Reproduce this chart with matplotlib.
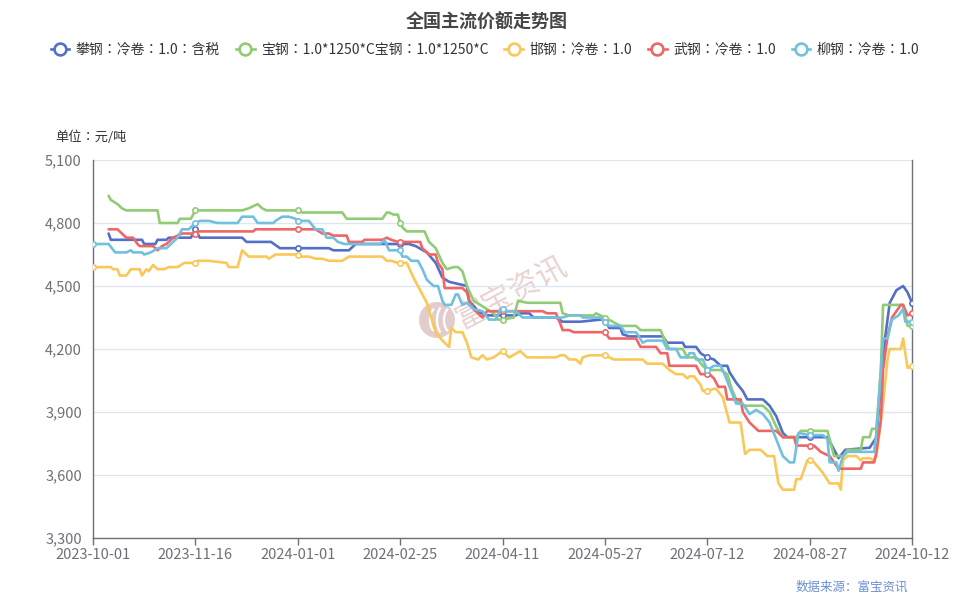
import matplotlib
matplotlib.use("Agg")
import matplotlib.pyplot as plt
from matplotlib.lines import Line2D
from matplotlib.patches import Circle, Arc
import pandas as pd

plt.rcParams['font.family'] = ['Noto Sans CJK SC', 'DejaVu Sans']

# ---------------- data ----------------
# category axis: daily dates, Spring Festival closure (2024-02-09..02-17) has no data
all_days = pd.date_range("2023-10-01", "2024-10-12", freq="D")
closed = pd.date_range("2024-02-09", "2024-02-17", freq="D")
dates = [d.strftime("%Y-%m-%d") for d in all_days if d not in closed]
label_step = 46

series_names = ["攀钢：冷卷：1.0：含税",
                "宝钢：1.0*1250*C宝钢：1.0*1250*C",
                "邯钢：冷卷：1.0",
                "武钢：冷卷：1.0",
                "柳钢：冷卷：1.0"]
series_colors = ["#5470c6", "#91cc75", "#fac858", "#ee6666", "#73c0de"]

# (date index, price) change points
pangang = [(7,4750),(8,4720),(22,4720),(23,4700),(28,4700),(29,4720),(33,4720),(34,4730),(44,4730),
           (46,4770),(48,4730),(67,4730),(69,4710),(80,4710),(84,4680),(92,4680),(106,4680),(108,4670),
           (115,4670),(118,4700),(138,4700),(142,4700),(145,4690),(150,4660),(154,4610),(157,4540),
           (160,4520),(168,4500),(169,4430),(173,4380),(177,4360),(184,4360),(190,4360),(192,4370),
           (196,4370),(198,4350),(208,4350),(211,4330),(219,4330),(228,4340),(230,4340),(232,4300),
           (237,4300),(238,4270),(241,4260),(256,4260),(258,4230),(265,4230),(266,4210),(271,4210),
           (273,4180),(276,4160),(279,4150),(282,4120),(285,4120),(286,4090),(289,4040),(292,4000),
           (294,3960),(301,3960),(304,3930),(307,3880),(310,3800),(312,3780),(322,3780),(330,3780),
           (333,3720),(335,3680),(338,3720),(349,3730),(352,3780),(354,4020),(356,4260),(358,4420),
           (361,4480),(364,4500),(366,4470),(368,4420)]
baogang = [(7,4930),(8,4910),(11,4890),(13,4870),(15,4860),(29,4860),(30,4800),(38,4800),(39,4820),
           (44,4820),(46,4860),(67,4860),(70,4870),(74,4890),(76,4870),(78,4860),(92,4860),(94,4850),
           (112,4850),(114,4820),(130,4820),(132,4850),(133,4850),(135,4840),(137,4840),(138,4800),
           (139,4780),(141,4760),(149,4760),(151,4710),(154,4680),(157,4610),(159,4580),(162,4590),
           (164,4590),(166,4570),(168,4500),(171,4430),(174,4410),(177,4390),(180,4370),(182,4340),
           (184,4340),(189,4350),(191,4430),(195,4420),(210,4420),(211,4370),(214,4360),(225,4360),
           (226,4370),(230,4350),(237,4310),(244,4310),(246,4290),(255,4290),(257,4240),(259,4200),
           (265,4200),(267,4160),(271,4160),(274,4120),(276,4100),(282,4100),(285,4080),(287,4010),
           (289,3960),(292,3930),(301,3930),(304,3900),(307,3830),(310,3780),(316,3780),(318,3810),
           (322,3810),(330,3810),(333,3690),(337,3690),(339,3720),(345,3720),(346,3780),(349,3780),
           (350,3820),(352,3820),(354,4100),(355,4410),(364,4410),(366,4310),(368,4310)]
hangang = [(0,4590),(8,4590),(9,4580),(11,4580),(12,4550),(15,4550),(17,4580),(21,4580),(22,4550),
           (24,4580),(25,4570),(27,4600),(29,4580),(32,4580),(34,4590),(38,4590),(41,4610),(45,4610),
           (46,4610),(47,4620),(49,4620),(52,4620),(60,4610),(61,4590),(65,4590),(67,4670),(70,4640),
           (78,4640),(79,4630),(82,4650),(92,4650),(93,4640),(97,4640),(100,4630),(103,4630),(106,4620),
           (112,4620),(115,4640),(130,4640),(132,4620),(134,4620),(137,4610),(138,4610),(141,4610),
           (144,4540),(147,4480),(150,4420),(152,4350),(154,4280),(157,4240),(160,4210),(161,4300),
           (163,4280),(166,4280),(168,4230),(170,4160),(173,4150),(175,4170),(177,4150),(180,4160),
           (184,4190),(187,4160),(192,4190),(195,4160),(208,4160),(210,4170),(212,4170),(214,4150),
           (217,4150),(219,4130),(220,4160),(223,4170),(228,4170),(230,4170),(234,4150),(247,4150),
           (249,4130),(256,4130),(259,4100),(262,4080),(265,4080),(267,4060),(268,4070),(270,4070),
           (273,4030),(274,4000),(276,4000),(279,4010),(280,4010),(283,3970),(286,3850),(291,3850),
           (293,3700),(295,3720),(300,3720),(303,3690),(306,3690),(308,3560),(310,3530),(315,3530),
           (316,3580),(318,3580),(321,3670),(322,3670),(324,3660),(328,3610),(331,3560),(335,3560),
           (336,3530),(337,3670),(339,3690),(343,3690),(345,3670),(346,3680),(349,3680),(351,3670),
           (352,3690),(355,3940),(357,4150),(358,4200),(363,4200),(364,4250),(365,4180),(366,4110),
           (368,4120)]
wugang = [(7,4770),(11,4770),(13,4750),(15,4730),(18,4730),(20,4700),(21,4690),(27,4690),(29,4670),
          (31,4690),(33,4700),(36,4730),(40,4750),(45,4750),(46,4750),(47,4760),(72,4760),(73,4770),
          (92,4770),(100,4770),(103,4750),(106,4750),(108,4740),(114,4740),(115,4710),(121,4710),
          (122,4720),(130,4720),(132,4730),(134,4720),(137,4710),(138,4710),(147,4710),(148,4680),
          (151,4650),(154,4650),(155,4610),(157,4580),(158,4490),(166,4490),(168,4470),(169,4430),
          (171,4390),(173,4370),(175,4350),(177,4380),(184,4380),(202,4380),(204,4370),(208,4370),
          (210,4320),(211,4290),(214,4290),(216,4280),(230,4280),(232,4250),(244,4250),(246,4210),
          (253,4210),(255,4180),(258,4180),(259,4120),(271,4120),(273,4080),(276,4080),(277,4080),
          (279,4060),(281,4020),(284,4020),(285,3960),(291,3960),(292,3900),(295,3850),(299,3810),
          (307,3810),(310,3780),(315,3780),(316,3740),(322,3740),(324,3740),(327,3710),(331,3690),
          (335,3630),(345,3630),(346,3660),(351,3660),(352,3710),(354,3860),(355,4100),(357,4260),
          (359,4350),(363,4410),(364,4410),(366,4360),(368,4370)]
liugang = [(0,4700),(7,4700),(10,4660),(15,4660),(17,4670),(18,4660),(22,4660),(23,4650),(26,4660),
           (29,4680),(33,4680),(35,4700),(38,4730),(40,4770),(43,4770),(45,4790),(46,4800),(48,4810),
           (52,4810),(56,4800),(65,4800),(67,4830),(72,4830),(74,4800),(81,4800),(82,4810),(85,4830),
           (88,4830),(91,4820),(92,4810),(97,4810),(100,4770),(103,4770),(105,4730),(108,4730),
           (110,4710),(113,4700),(129,4700),(131,4720),(133,4670),(138,4670),(139,4640),(141,4640),
           (143,4620),(146,4620),(148,4580),(150,4530),(153,4500),(155,4500),(157,4430),(158,4410),
           (161,4410),(163,4460),(164,4460),(166,4410),(168,4420),(171,4390),(175,4380),(178,4340),
           (181,4340),(183,4390),(184,4390),(185,4380),(190,4380),(193,4350),(211,4350),(214,4360),
           (219,4360),(220,4350),(228,4350),(230,4330),(232,4310),(237,4310),(239,4280),(244,4280),
           (247,4230),(249,4240),(256,4240),(258,4200),(262,4200),(264,4160),(267,4160),(268,4180),
           (270,4180),(271,4150),(274,4150),(276,4100),(279,4120),(282,4120),(283,4100),(286,4020),
           (289,3940),(292,3940),(295,3890),(298,3910),(301,3890),(304,3850),(307,3770),(310,3690),
           (313,3660),(315,3660),(317,3800),(322,3790),(328,3790),(330,3770),(331,3660),(334,3660),
           (335,3620),(337,3690),(339,3710),(351,3710),(352,3800),(353,3940),(355,4250),(357,4250),
           (359,4340),(362,4360),(364,4390),(365,4330),(368,4330)]
all_series = [pangang, baogang, hangang, wugang, liugang]

y_ticks = [3300, 3600, 3900, 4200, 4500, 4800, 5100]

# ---------------- figure ----------------
W, H = 971, 600
fig = plt.figure(figsize=(W / 100, H / 100), dpi=100)
ax = fig.add_axes([93 / W, 1 - 538 / H, (912 - 93) / W, (538 - 160) / H])

axis_col = "#6e7079"
grid_col = "#e0e6f1"
cjk_centered = ["Noto Sans CJK TC", "DejaVu Sans"]

# watermark (behind lines)
wm_ax = fig.add_axes([0, 0, 1, 1], zorder=0)
wm_ax.set_xlim(0, W)
wm_ax.set_ylim(H, 0)
wm_ax.axis("off")
wm_ax.add_patch(Circle((437, 320), 18, color="#e2cccc", lw=0))
for dx, h in [(-7, 26), (0, 30), (7, 26)]:
    wm_ax.add_patch(Arc((437 + dx + 8, 320), 16, h, theta1=110, theta2=250, color="white", lw=1.6))
wm_ax.text(511, 292, "富宝资讯", rotation=28, fontsize=22, color="#e9d2d2",
           ha="center", va="center", family=["Noto Sans CJK SC"])
ax.set_zorder(1)
ax.patch.set_alpha(0)

tick_pos = list(range(0, len(dates), label_step))
handles = []
for data, name, col in zip(all_series, series_names, series_colors):
    xs = [p[0] for p in data]
    ys = [p[1] for p in data]
    mk = [i for i, x in enumerate(xs) if x in tick_pos or x == len(dates) - 1]
    ax.plot(xs, ys, color=col, lw=1.9, solid_joinstyle="round", solid_capstyle="round",
            marker="o", markevery=mk, markersize=3.8, markerfacecolor="white",
            markeredgecolor=col, markeredgewidth=1.2, zorder=3)
    handles.append(Line2D([0], [0], color=col, lw=1.9, marker="o", markersize=8.5,
                          markerfacecolor="white", markeredgecolor=col, markeredgewidth=1.9))

ax.set_xlim(0, len(dates) - 1)
ax.set_ylim(y_ticks[0], y_ticks[-1])
ax.set_yticks(y_ticks)
ax.set_yticklabels([f"{v:,}" for v in y_ticks])
ax.set_xticks(tick_pos)
ax.set_xticklabels([dates[i] for i in tick_pos])
ax.grid(axis="y", color=grid_col, lw=1)
ax.set_axisbelow(True)
ax.spines["top"].set_visible(False)
for s in ["left", "bottom", "right"]:
    ax.spines[s].set_color(axis_col)
    ax.spines[s].set_linewidth(1)
ax.tick_params(axis="y", length=0, pad=8, labelsize=10.5, labelcolor=axis_col)
ax.tick_params(axis="x", length=5, width=1, color=axis_col, pad=2, labelsize=10.5,
               labelcolor=axis_col)

# texts
fig.text(487 / W, 1 - 22 / H, "全国主流价额走势图", ha="center", va="center",
         fontsize=13, fontweight="bold", color="#464646")
fig.text(55 / W, 1 - 137 / H, "单位：元/吨", ha="left", va="center", fontsize=9.5,
         color="#333333", family=cjk_centered)
fig.text(908 / W, 1 - 587 / H, "数据来源：富宝资讯", ha="right", va="center", fontsize=9,
         color="#6b8fd2")

fig.legend(handles, series_names, loc="center", bbox_to_anchor=(485 / W, 1 - 50 / H), ncol=5,
           frameon=False, prop={"family": cjk_centered, "size": 10}, handlelength=1.35,
           handletextpad=0.45, columnspacing=1.15, labelcolor="#333333", borderaxespad=0)

fig.savefig("out.png", dpi=100)
